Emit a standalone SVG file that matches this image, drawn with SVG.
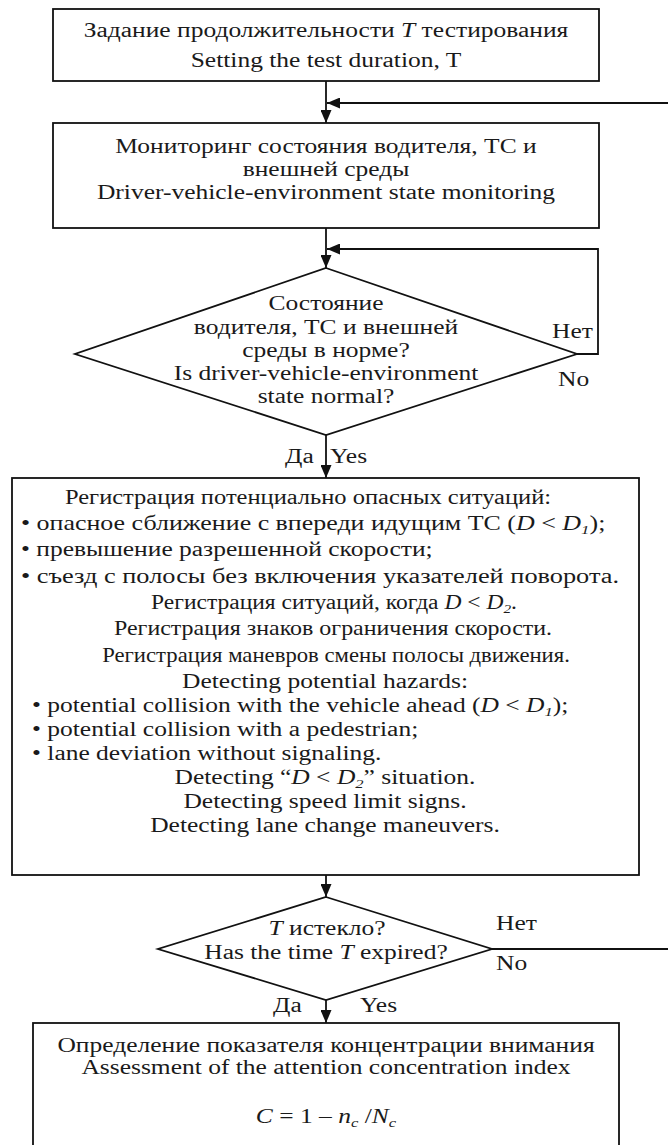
<svg xmlns="http://www.w3.org/2000/svg" width="668" height="1145" viewBox="0 0 668 1145">
<style>
.box{fill:#fff;stroke:#111;stroke-width:1.8}
.ln{fill:none;stroke:#111;stroke-width:1.8}
text{font-family:"Liberation Serif","Times New Roman",serif;font-size:20px;fill:#1a1a1a}
.c{text-anchor:middle}
.s{text-anchor:start}
.i{font-style:italic}
</style>
<defs>
<marker id="ah" markerUnits="userSpaceOnUse" markerWidth="13" markerHeight="11" refX="13" refY="5.5" orient="auto">
<path d="M0,0 L13,5.5 L0,11 z" fill="#111"/>
</marker>
</defs>
<rect width="668" height="1145" fill="#fff"/>
<g id="connectors">
<path class="ln" d="M326,81 V123" marker-end="url(#ah)"/>
<path class="ln" d="M668,103 H327" marker-end="url(#ah)"/>
<path class="ln" d="M326,228 V268" marker-end="url(#ah)"/>
<path class="ln" d="M577,354 H598 V249 H327" marker-end="url(#ah)"/>
<path class="ln" d="M326,435 V478" marker-end="url(#ah)"/>
<path class="ln" d="M326,875 V897" marker-end="url(#ah)"/>
<path class="ln" d="M492,949 H668"/>
<path class="ln" d="M326,1000 V1023" marker-end="url(#ah)"/>
</g>
<g id="n1">
<rect class="box" x="53" y="9" width="546" height="72"/>
<text class="c" transform="translate(326 37) scale(1.275 1)">Задание продолжительности <tspan class="i">T</tspan> тестирования</text>
<text class="c" transform="translate(326 67) scale(1.275 1)">Setting the test duration, T</text>
</g>
<g id="n2">
<rect class="box" x="53" y="123" width="546" height="105"/>
<text class="c" transform="translate(326 153) scale(1.275 1)">Мониторинг состояния водителя, ТС и</text>
<text class="c" transform="translate(326 176) scale(1.275 1)">внешней среды</text>
<text class="c" transform="translate(326 199) scale(1.275 1)">Driver-vehicle-environment state monitoring</text>
</g>
<g id="d1">
<polygon class="box" points="326,268 577,354 326,435 75,354"/>
<text class="c" transform="translate(326 310) scale(1.275 1)">Состояние</text>
<text class="c" transform="translate(326 334) scale(1.275 1)">водителя, ТС и внешней</text>
<text class="c" transform="translate(326 357) scale(1.275 1)">среды в норме?</text>
<text class="c" transform="translate(326 380) scale(1.275 1)">Is driver-vehicle-environment</text>
<text class="c" transform="translate(326 403) scale(1.275 1)">state normal?</text>
<text class="s" transform="translate(552 338) scale(1.275 1)">Нет</text>
<text class="s" transform="translate(558 386) scale(1.275 1)">No</text>
<text class="s" transform="translate(285 463) scale(1.275 1)">Да</text>
<text class="s" transform="translate(330 463) scale(1.275 1)">Yes</text>
</g>
<g id="n3">
<rect class="box" x="12" y="478" width="627" height="397"/>
<text class="c" transform="translate(308 504) scale(1.225 1)">Регистрация потенциально опасных ситуаций:</text>
<text class="s" transform="translate(21 530) scale(1.297 1)">• опасное сближение с впереди идущим ТС (<tspan class="i">D</tspan> &lt; <tspan class="i">D</tspan><tspan class="i" font-size="13" dy="4">1</tspan><tspan dy="-4">);</tspan></text>
<text class="s" transform="translate(21 556) scale(1.275 1)">• превышение разрешенной скорости;</text>
<text class="s" transform="translate(21 583) scale(1.317 1)">• съезд с полосы без включения указателей поворота.</text>
<text class="c" transform="translate(334 609) scale(1.175 1)">Регистрация ситуаций, когда <tspan class="i">D</tspan> &lt; <tspan class="i">D</tspan><tspan class="i" font-size="13" dy="4">2</tspan><tspan dy="-4">.</tspan></text>
<text class="c" transform="translate(333 635) scale(1.198 1)">Регистрация знаков ограничения скорости.</text>
<text class="c" transform="translate(336 662) scale(1.136 1)">Регистрация маневров смены полосы движения.</text>
<text class="c" transform="translate(325 688) scale(1.275 1)">Detecting potential hazards:</text>
<text class="s" transform="translate(32 712) scale(1.275 1)">• potential collision with the vehicle ahead (<tspan class="i">D</tspan> &lt; <tspan class="i">D</tspan><tspan class="i" font-size="13" dy="4">1</tspan><tspan dy="-4">);</tspan></text>
<text class="s" transform="translate(32 736) scale(1.275 1)">• potential collision with a pedestrian;</text>
<text class="s" transform="translate(32 760) scale(1.275 1)">• lane deviation without signaling.</text>
<text class="c" transform="translate(325 784) scale(1.275 1)">Detecting “<tspan class="i">D</tspan> &lt; <tspan class="i">D</tspan><tspan class="i" font-size="13" dy="4">2</tspan><tspan dy="-4">” situation.</tspan></text>
<text class="c" transform="translate(325 808) scale(1.275 1)">Detecting speed limit signs.</text>
<text class="c" transform="translate(325 832) scale(1.275 1)">Detecting lane change maneuvers.</text>
</g>
<g id="d2">
<polygon class="box" points="326,897 492,949 326,1000 158,949"/>
<text class="c" transform="translate(327 935) scale(1.275 1)"><tspan class="i">T</tspan> истекло?</text>
<text class="c" transform="translate(326 959) scale(1.275 1)">Has the time <tspan class="i">T</tspan> expired?</text>
<text class="s" transform="translate(496 930) scale(1.275 1)">Нет</text>
<text class="s" transform="translate(496 970) scale(1.275 1)">No</text>
<text class="s" transform="translate(273 1012) scale(1.275 1)">Да</text>
<text class="s" transform="translate(360 1012) scale(1.275 1)">Yes</text>
</g>
<g id="n4">
<rect class="box" x="33" y="1023" width="586" height="130"/>
<text class="c" transform="translate(326 1052) scale(1.275 1)">Определение показателя концентрации внимания</text>
<text class="c" transform="translate(326 1074) scale(1.275 1)">Assessment of the attention concentration index</text>
<text class="c" transform="translate(326 1123) scale(1.275 1)"><tspan class="i">C</tspan> = 1 – <tspan class="i">n</tspan><tspan class="i" font-size="13" dy="4">c</tspan><tspan dy="-4"> /</tspan><tspan class="i">N</tspan><tspan class="i" font-size="13" dy="4">c</tspan></text>
</g>
</svg>
